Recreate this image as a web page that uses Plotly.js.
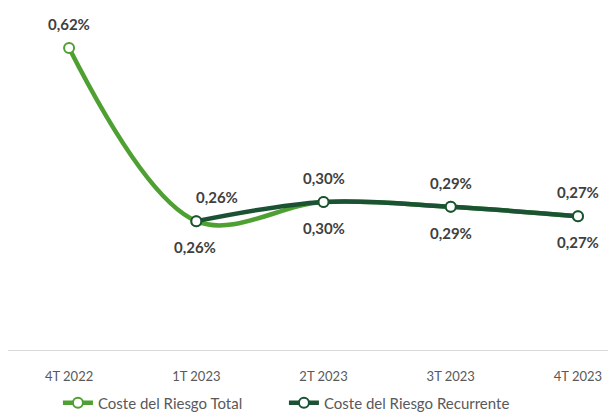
<!DOCTYPE html>
<html><head><meta charset="utf-8">
<script src="https://cdn.plot.ly/plotly-3.0.1.min.js"></script>
<style>html,body{margin:0;padding:0;background:#fff;}#chart{width:608px;height:412px;}</style>
</head><body><div id="chart"></div>
<script>
const categories = ["4T 2022", "1T 2023", "2T 2023", "3T 2023", "4T 2023"];
const totalName = "Coste del Riesgo Total";
const recName = "Coste del Riesgo Recurrente";
const totalValues = [0.62, 0.26, 0.30, 0.29, 0.27];
const recValues = [null, 0.26, 0.30, 0.29, 0.27];

const lightGreen = "#4FA032";
const darkGreen = "#1B5234";

function fmt(v){ return v.toFixed(2).replace(".", ",") + "%"; }

const traces = [
  {x: categories, y: totalValues, name: totalName, type: "scatter", mode: "lines+markers",
   line: {color: lightGreen, width: 4.5, shape: "spline", smoothing: 1},
   marker: {size: 10, color: "#ffffff", line: {color: lightGreen, width: 2}}, cliponaxis: false},
  {x: categories, y: recValues, name: recName, type: "scatter", mode: "lines+markers",
   line: {color: darkGreen, width: 4.5, shape: "spline", smoothing: 1},
   marker: {size: 10, color: "#ffffff", line: {color: darkGreen, width: 2}}, cliponaxis: false}
];

const annotations = [];
const labelFont = {family: "Lato, 'Open Sans', sans-serif", size: 15, color: "#404040", weight: "bold"};
totalValues.forEach((v, i) => {
  if (v === null) return;
  const above = (i === 0);
  annotations.push({x: categories[i], y: v, text: "<b>" + fmt(v) + "</b>", showarrow: false,
    font: labelFont, yshift: above ? 24 : -26, xshift: i === 1 ? -1 : 0});
});
recValues.forEach((v, i) => {
  if (v === null) return;
  annotations.push({x: categories[i], y: v, text: "<b>" + fmt(v) + "</b>", showarrow: false,
    font: labelFont, yshift: 24, xshift: i === 1 ? 21 : 0});
});

const layout = {
  width: 608, height: 412,
  margin: {l: 8, r: 0, t: 0, b: 62, autoexpand: false},
  paper_bgcolor: "#ffffff", plot_bgcolor: "#ffffff",
  font: {family: "Lato, 'Open Sans', sans-serif", size: 14, color: "#595959"},
  showlegend: true,
  legend: {orientation: "h", xref: "container", yref: "container", x: 0.467, xanchor: "center", y: 0.022, yanchor: "middle",
    font: {size: 15, color: "#595959"}, itemwidth: 30, entrywidth: 181, tracegroupgap: 0},
  xaxis: {type: "category", range: [-0.48, 4.236], showline: true, linecolor: "#d9d9d9", linewidth: 1,
    showgrid: false, zeroline: false, ticks: "", ticklabelstandoff: 14, tickfont: {size: 13, color: "#595959"}, fixedrange: true},
  yaxis: {range: [-0.008, 0.72], visible: false, showgrid: false, zeroline: false, fixedrange: true},
  annotations: annotations
};
Plotly.newPlot("chart", traces, layout, {displayModeBar: false, staticPlot: true});
</script></body></html>
